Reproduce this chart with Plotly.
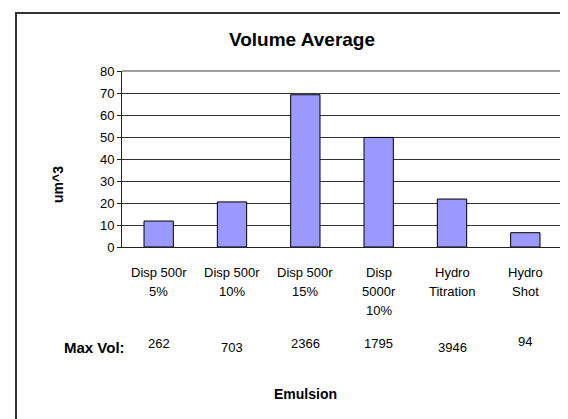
import plotly.graph_objects as go

# ---- data ----
categories = ["Disp 500r\n5%", "Disp 500r\n10%", "Disp 500r\n15%",
              "Disp\n5000r\n10%", "Hydro\nTitration", "Hydro\nShot"]
volume_avg = [11.8, 20.5, 69.2, 49.8, 21.8, 6.5]
max_vol = [262, 703, 2366, 1795, 3946, 94]
y_ticks = [0, 10, 20, 30, 40, 50, 60, 70, 80]

# ---- layout constants (pixels) ----
W, H = 568, 419
L, R, T, B = 114, 14, 63, 180
PH = H - T - B
PW = W - L - R
FONT = "Liberation Sans, Arial, sans-serif"


def py(pixel_y):
    return (H - B - pixel_y) / PH


def px(pixel_x):
    return (pixel_x - L) / PW


value_y_px = [335, 339, 335, 335, 339, 333]
row_y_px = [264, 283, 302]

fig = go.Figure()
fig.add_trace(go.Bar(
    x=categories, y=volume_avg,
    marker=dict(color="#9999FF", line=dict(color="black", width=1)),
    width=0.4,
))

annotations = []
for cat in categories:
    for i, line in enumerate(cat.split("\n")):
        annotations.append(dict(x=cat, xref="x", y=py(row_y_px[i]), yref="paper",
                                text=line, showarrow=False, xanchor="center", yanchor="middle",
                                font=dict(family=FONT, size=13, color="black")))
for cat, v, yp in zip(categories, max_vol, value_y_px):
    annotations.append(dict(x=cat, xref="x", y=py(yp), yref="paper",
                            text=str(v), showarrow=False, xanchor="center", yanchor="middle",
                            font=dict(family=FONT, size=13, color="black")))
annotations.append(dict(x=px(86), xref="paper", y=py(339), yref="paper",
                        text="<b>Max Vol:</b>", showarrow=False, xanchor="center", yanchor="middle",
                        font=dict(family=FONT, size=15, color="black")))
annotations.append(dict(x=px(297), xref="paper", y=py(386), yref="paper",
                        text="<b>Emulsion</b>", showarrow=False, xanchor="center", yanchor="middle",
                        font=dict(family=FONT, size=14, color="black")))
annotations.append(dict(x=px(50), xref="paper", y=py(177), yref="paper",
                        text="<b>um^3</b>", showarrow=False, textangle=-90,
                        xanchor="center", yanchor="middle",
                        font=dict(family=FONT, size=14, color="black")))

shapes = [
    # outer chart border (extends beyond the picture on right/bottom)
    dict(type="rect", xref="paper", yref="paper", x0=px(8), y0=-3, x1=3, y1=py(5),
         line=dict(color="#333333", width=2), layer="above"),
    # plot area border top/right in gray
    dict(type="path", xref="paper", yref="paper", path="M 0,1 L 1,1 L 1,0",
         line=dict(color="#A0A0A0", width=2), layer="above"),
]

fig.update_layout(
    width=W, height=H,
    margin=dict(l=L, r=R, t=T, b=B, pad=0),
    paper_bgcolor="white", plot_bgcolor="white",
    showlegend=False,
    title=dict(text="<b>Volume Average</b>", x=294 / W, xanchor="center",
               y=1 - 31.5 / H, yanchor="middle",
               font=dict(family=FONT, size=19, color="black")),
    xaxis=dict(type="category", showticklabels=False, ticks="",
               showline=True, linecolor="#222222", linewidth=1, showgrid=False,
               zeroline=False),
    yaxis=dict(range=[0, 80], tickvals=y_ticks, showgrid=True, gridcolor="#333333",
               gridwidth=1, zeroline=False, showline=True, linecolor="#222222",
               linewidth=1, ticks="outside", ticklen=4, tickcolor="#222222",
               tickfont=dict(family=FONT, size=13, color="black")),
    annotations=annotations,
    shapes=shapes,
)

fig.write_html("out.html")
